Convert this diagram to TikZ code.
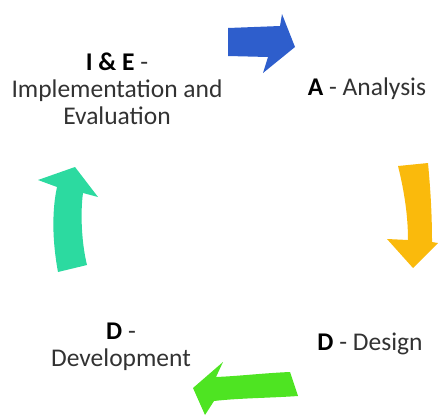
\documentclass[tikz,border=0pt]{standalone}
\usepackage{fontspec}
\setmainfont{Carlito}
\definecolor{blueA}{RGB}{46,94,204}
\definecolor{yellowD}{RGB}{250,186,12}
\definecolor{greenD}{RGB}{78,228,34}
\definecolor{tealIE}{RGB}{44,218,160}
\definecolor{labeltext}{RGB}{50,50,50}
\tikzset{
  phase/.style={anchor=base, inner sep=0pt, align=center, text=labeltext,
    font=\fontsize{25.5}{27}\selectfont}
}
\begin{document}
\begin{tikzpicture}[x=1pt, y=-1pt, line width=0.5pt]
  \useasboundingbox (0,0) rectangle (446,415);

  % base of a multi-line node is its last line
  \node[phase] (IE) at (117,124) {{\bfseries\color{black}I \& E} -\\Implementation and\\Evaluation};
  \node[phase] (A) at (367,95) {{\bfseries\color{black}A} - Analysis};
  \node[phase] (Des) at (370,350) {{\bfseries\color{black}D} - Design};
  \node[phase] (Dev) at (121,366) {{\bfseries\color{black}D} -\\Development};

  % arrows between the phases
  \fill[blueA] (228,28) -- (280,26) -- (282,14) -- (295,47) -- (263,73)
    -- (268,57) -- (228,56) -- cycle;
  \fill[yellowD] (398,166) .. controls (404,190) and (408,215) .. (408,240)
    -- (387,239) -- (413,268) -- (438,243) -- (432,242)
    .. controls (432,210) and (430,185) .. (428,163) -- cycle;
  \fill[greenD] (290,372) -- (298,396) .. controls (270,398) and (240,398) .. (214,401)
    -- (205,415) -- (193,388) -- (223,362) -- (216,377)
    .. controls (240,376) and (265,373) .. (290,372) -- cycle;
  \fill[tealIE] (58,272) .. controls (52,240) and (52,210) .. (57,187)
    -- (38,180) -- (75,167) -- (98,197) -- (83,193)
    .. controls (80,215) and (82,245) .. (87,265) -- cycle;

\end{tikzpicture}
\end{document}
